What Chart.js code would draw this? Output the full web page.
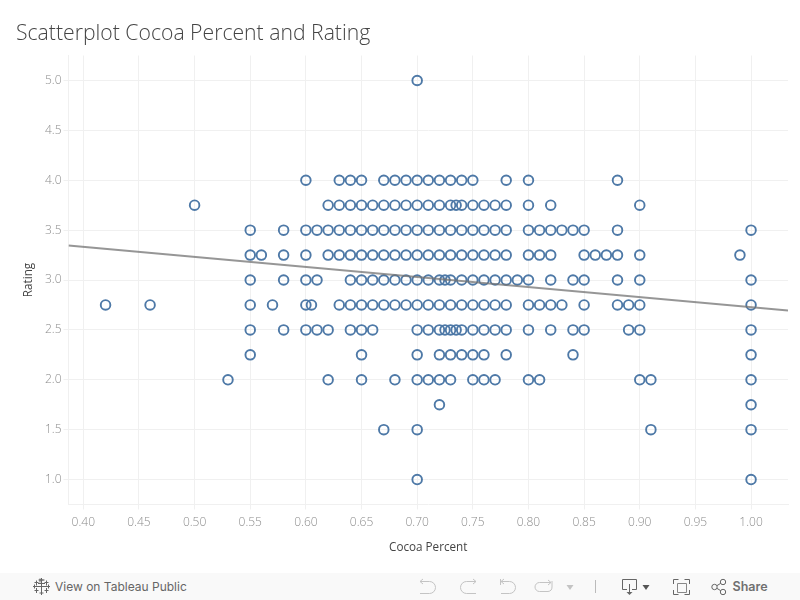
<!DOCTYPE html>
<html>
<head>
<meta charset="utf-8">
<title>Scatterplot Cocoa Percent and Rating</title>
<script src="https://cdn.jsdelivr.net/npm/chart.js@4"></script>
<style>
  html, body { margin: 0; padding: 0; background: #fff; overflow: hidden; }
  #wrap { position: relative; width: 800px; height: 600px; }
  #chart { position: absolute; left: 0; top: 0; }
  #toolbar { position: absolute; left: 0; top: 573px; width: 800px; height: 27px; background: #f9f9f9; }
  #toolbar svg { position: absolute; left: 0; top: 0; }
  #toolbar span { position: absolute; top: 6px; font: 400 12px/16px Inter, Roboto, sans-serif; color: #666; }
  #toolbar span.share { font-weight: 600; font-size: 12.500px; color: #707070; }
</style>
</head>
<body>
<div id="wrap">
  <canvas id="chart" width="800" height="573"></canvas>
  <div id="toolbar">
    <svg width="800" height="27" fill="none" stroke-width="1">
      <!-- tableau logo -->
      <g stroke="#666">
        <path d="M41.500 7.500v12M35.500 13.500h12M38 10.500h7M40 5.500v4M38.500 7h6M42.500 5.500"/>
        <path d="M41.500 5v5M39.500 7h4M41.500 17v5M39.500 20h4M33 13.500h4M34.500 11.500v4M46 13.500h4M48.500 11.500v4"/>
        <path d="M36.500 7.500v5M34.500 9.500h4M46.500 7.500v5M44.500 9.500h4M36.500 15v5M34.500 17.500h4M46.500 15v5M44.500 17.500h4"/>
      </g>
      <!-- undo, redo, revert, refresh: disabled -->
      <g stroke="#c4c4c4">
        <path d="M420 8.500h9.500a6 6 0 0 1 0 12H420M420 8.500l3-2.500M420 8.500l3 2.500"/>
        <path d="M476 8.500h-9.500a6 6 0 0 0 0 12H476M476 8.500l-3-2.500M476 8.500l-3 2.500"/>
        <path d="M500.500 6v6M501 8.500h8.500a6 6 0 0 1 0 12H501M501 8.500l3-2.500M501 8.500l3 2.500"/>
        <path d="M551 9.500h-11.500a4.500 4.500 0 0 0 0 9h8.500a4.500 4.500 0 0 0 4-4.500V8M551 9.500l-3-2.500M551 9.500l-3 2.500"/>
      </g>
      <path d="M566.500 12h7l-3.500 5z" fill="#c4c4c4"/>
      <path d="M595.500 7v13" stroke="#bbb"/>
      <!-- download -->
      <g stroke="#666">
        <path d="M627 16.500h-4.500v-10h14v10H632M629.500 11v9"/>
      </g>
      <path d="M626.500 19h6l-3 3z" fill="#666"/>
      <path d="M642.500 12h7l-3.500 5z" fill="#555"/>
      <!-- fullscreen -->
      <g stroke="#666">
        <path d="M677.500 10.500h9v9h-9z" stroke="#888"/>
        <path d="M673.500 11V6.500h5M689.500 11V6.500h-5M673.500 17v4.500h5M689.500 17v4.500h-5"/>
      </g>
      <!-- share -->
      <g stroke="#666">
        <circle cx="714.500" cy="14" r="2.700"/>
        <circle cx="723" cy="9" r="2.700"/>
        <circle cx="723" cy="19" r="2.700"/>
        <path d="M717 12.600l3.600-2.200M717 15.400l3.600 2.200"/>
      </g>
    </svg>
    <span style="left:55px">View on Tableau Public</span>
    <span class="share" style="left:732.500px">Share</span>
  </div>
</div>

<script>
const xTicks = [0.40, 0.45, 0.50, 0.55, 0.60, 0.65, 0.70, 0.75, 0.80, 0.85, 0.90, 0.95, 1.00];
const yTicks = [1.0, 1.5, 2.0, 2.5, 3.0, 3.5, 4.0, 4.5, 5.0];

// cocoa percent of the bars found at each rating
const rating500 = [0.70];
const rating400 = [0.60, 0.63, 0.64, 0.65, 0.67, 0.68, 0.69, 0.70, 0.71, 0.72, 0.73, 0.74, 0.75, 0.78, 0.80, 0.88];
const rating375 = [0.50, 0.62, 0.63, 0.64, 0.65, 0.66, 0.67, 0.68, 0.69, 0.70, 0.71, 0.72, 0.73, 0.735, 0.74, 0.75, 0.76, 0.77, 0.78, 0.80, 0.82, 0.90];
const rating350 = [0.55, 0.58, 0.60, 0.61, 0.62, 0.63, 0.64, 0.65, 0.66, 0.67, 0.68, 0.69, 0.70, 0.71, 0.72, 0.73, 0.74, 0.75, 0.76, 0.77, 0.78, 0.80, 0.81, 0.82, 0.83, 0.84, 0.85, 0.88, 1.00];
const rating325 = [0.55, 0.56, 0.58, 0.60, 0.62, 0.63, 0.64, 0.65, 0.66, 0.67, 0.68, 0.69, 0.70, 0.71, 0.72, 0.73, 0.74, 0.75, 0.76, 0.77, 0.78, 0.80, 0.81, 0.82, 0.85, 0.86, 0.87, 0.88, 0.90, 0.99];
const rating300 = [0.55, 0.58, 0.60, 0.61, 0.64, 0.65, 0.66, 0.67, 0.68, 0.69, 0.70, 0.71, 0.72, 0.725, 0.73, 0.74, 0.75, 0.76, 0.77, 0.78, 0.79, 0.80, 0.82, 0.84, 0.85, 0.88, 0.90, 1.00];
const rating275 = [0.42, 0.46, 0.55, 0.57, 0.60, 0.605, 0.63, 0.64, 0.65, 0.66, 0.67, 0.68, 0.69, 0.70, 0.71, 0.72, 0.73, 0.74, 0.75, 0.76, 0.77, 0.78, 0.80, 0.81, 0.82, 0.83, 0.85, 0.88, 0.89, 0.90, 1.00];
const rating250 = [0.55, 0.58, 0.60, 0.61, 0.62, 0.64, 0.65, 0.66, 0.70, 0.71, 0.72, 0.725, 0.73, 0.735, 0.74, 0.75, 0.76, 0.77, 0.78, 0.80, 0.82, 0.84, 0.85, 0.89, 0.90, 1.00];
const rating225 = [0.55, 0.65, 0.70, 0.72, 0.73, 0.74, 0.75, 0.76, 0.78, 0.84, 1.00];
const rating200 = [0.53, 0.62, 0.65, 0.68, 0.70, 0.71, 0.72, 0.73, 0.75, 0.76, 0.77, 0.80, 0.81, 0.90, 0.91, 1.00];
const rating175 = [0.72, 1.00];
const rating150 = [0.67, 0.70, 0.91, 1.00];
const rating100 = [0.70, 1.00];

const trendX = [0.3867, 1.0332];
const trendY = [3.345, 2.695];

const rows = [
  [5.0, rating500], [4.0, rating400], [3.75, rating375], [3.5, rating350], [3.25, rating325],
  [3.0, rating300], [2.75, rating275], [2.5, rating250], [2.25, rating225], [2.0, rating200],
  [1.75, rating175], [1.5, rating150], [1.0, rating100]
];
const points = [];
rows.forEach(([rating, cocoa]) => {
  cocoa.forEach((c) => points.push({ x: c, y: rating }));
});

const gridColor = '#f0f0f0';
const tickColor = '#8c8c8c';
const tickFont = { family: '"Open Sans", sans-serif', size: 12, weight: 300 };
const axisTitleFont = { family: '"Open Sans", sans-serif', size: 11.700, weight: 400 };

const ctx = document.querySelector('#chart').getContext('2d');
const myChart = new Chart(ctx, {
  type: 'scatter',
  data: {
    datasets: [
      {
        type: 'line',
        data: trendX.map((x, i) => ({ x: x, y: trendY[i] })),
        borderColor: 'rgba(115,115,115,0.75)',
        borderWidth: 2,
        pointRadius: 0,
        fill: false,
        order: 1
      },
      {
        data: points,
        borderColor: '#4e79a7',
        backgroundColor: 'transparent',
        borderWidth: 1.9,
        pointRadius: 4.8,
        order: 2
      }
    ]
  },
  options: {
    responsive: false,
    animation: false,
    layout: { padding: { top: 0, right: 12, bottom: 0, left: 16 } },
    plugins: {
      legend: { display: false },
      tooltip: { enabled: false },
      title: {
        display: true,
        text: 'Scatterplot Cocoa Percent and Rating',
        align: 'start',
        color: '#444',
        font: { family: '"Open Sans", sans-serif', size: 21.200, weight: 300, lineHeight: 1.2 },
        padding: { top: 21, bottom: 9.100 }
      }
    },
    scales: {
      x: {
        type: 'linear',
        min: trendX[0],
        max: trendX[1],
        afterBuildTicks: (scale) => { scale.ticks = xTicks.map((v) => ({ value: v })); },
        afterFit: (scale) => { scale.height = 68.5; },
        ticks: {
          autoSkip: false,
          maxRotation: 0,
          color: tickColor,
          font: tickFont,
          padding: 6,
          callback: (v) => v.toFixed(2)
        },
        grid: { color: gridColor, lineWidth: 1, tickLength: 5, tickColor: gridColor },
        border: { color: gridColor },
        title: {
          display: true,
          text: 'Cocoa Percent',
          color: '#444',
          font: axisTitleFont,
          padding: { top: 0, bottom: 18 }
        }
      },
      y: {
        type: 'linear',
        min: 0.75,
        max: 5.25,
        afterBuildTicks: (scale) => { scale.ticks = yTicks.map((v) => ({ value: v })); },
        afterFit: (scale) => { scale.width = 52.5; },
        ticks: {
          autoSkip: false,
          color: tickColor,
          font: tickFont,
          padding: 2,
          callback: (v) => v.toFixed(1)
        },
        grid: { color: gridColor, lineWidth: 1, tickLength: 5, tickColor: gridColor },
        border: { color: gridColor },
        title: {
          display: true,
          text: 'Rating',
          color: '#444',
          font: axisTitleFont,
          padding: { top: 6, bottom: 0 }
        }
      }
    }
  }
});
</script>
</body>
</html>
